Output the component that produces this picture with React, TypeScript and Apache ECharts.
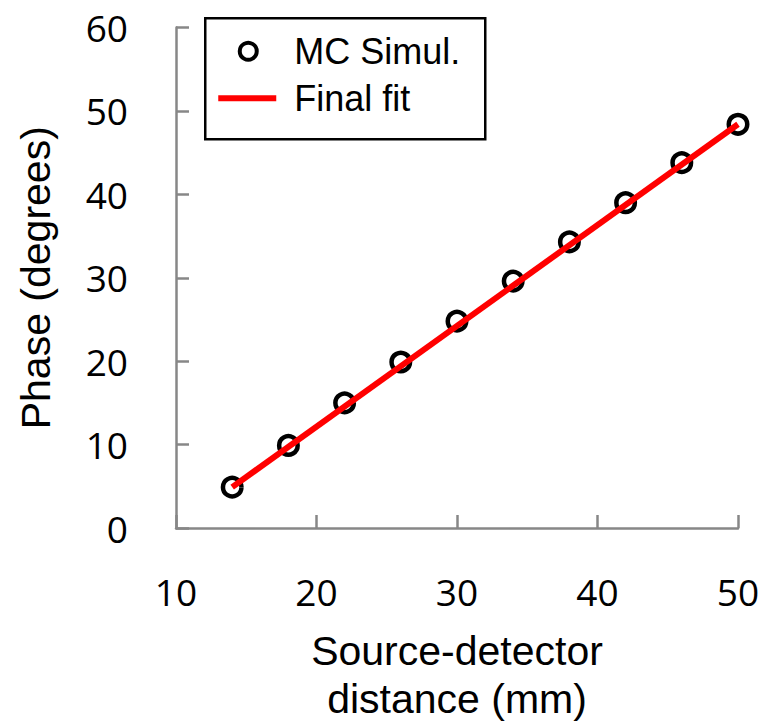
import React, { useEffect, useRef } from "react";
import * as echarts from "echarts";

const distances = [14, 18, 22, 26, 30, 34, 38, 42, 46, 50];
const mcPhase = [4.9, 9.9, 15.0, 19.9, 24.8, 29.6, 34.3, 39.0, 43.8, 48.4];
const fitDistances = [14, 50];
const fitPhase = [4.9, 48.4];
const xTicks = { min: 10, max: 50, interval: 10 };
const yTicks = { min: 0, max: 60, interval: 10 };
const seriesNames = ["MC Simul.", "Final fit"];
const xTitle = "Source-detector\ndistance (mm)";
const yTitle = "Phase (degrees)";

const AXIS_COLOR = "#878787";
const TITLE_FONT = "'Liberation Sans', Arial, sans-serif";
const TICK_FONT = "'Open Sans', sans-serif";

export default function App() {
  const ref = useRef<HTMLDivElement>(null);
  useEffect(() => {
    document.body.style.margin = "0";
    const chart = echarts.init(ref.current!, null, { renderer: "svg" });
    const axisCommon = {
      axisLine: { show: true, lineStyle: { color: AXIS_COLOR, width: 2.5 } },
      axisTick: { show: true, inside: true, length: 13, lineStyle: { color: AXIS_COLOR, width: 2.5 } },
      splitLine: { show: false },
    };
    chart.setOption({
      animation: false,
      backgroundColor: "#ffffff",
      grid: { left: 176, right: 37, top: 27.5, bottom: 199, containLabel: false },
      xAxis: {
        type: "value",
        ...xTicks,
        ...axisCommon,
        axisLabel: { margin: 45, color: "#000", fontSize: 37, fontFamily: TICK_FONT },
        name: xTitle,
        nameLocation: "middle",
        nameGap: 99,
        nameTextStyle: { color: "#000", fontSize: 41, lineHeight: 48, fontFamily: TITLE_FONT },
      },
      yAxis: {
        type: "value",
        ...yTicks,
        ...axisCommon,
        axisLabel: { margin: 48, color: "#000", fontSize: 37, fontFamily: TICK_FONT },
        name: yTitle,
        nameLocation: "middle",
        nameGap: 120,
        nameTextStyle: { color: "#000", fontSize: 41, fontFamily: TITLE_FONT },
      },
      series: [
        {
          name: seriesNames[0],
          type: "scatter",
          data: distances.map((d, i) => [d, mcPhase[i]]),
          symbol: "circle",
          symbolSize: 18.5,
          itemStyle: { color: "rgba(255,255,255,0)", borderColor: "#000", borderWidth: 4.5, opacity: 1 },
          z: 2,
        },
        {
          name: seriesNames[1],
          type: "line",
          data: fitDistances.map((d, i) => [d, fitPhase[i]]),
          showSymbol: false,
          symbol: "none",
          lineStyle: { color: "#ff0000", width: 6, opacity: 1 },
          z: 3,
        },
      ],
      graphic: [
        {
          type: "group",
          left: 204,
          top: 17,
          z: 10,
          children: [
            {
              type: "rect",
              shape: { x: 0, y: 0, width: 280, height: 121 },
              style: { fill: "#fff", stroke: "#000", lineWidth: 2.5 },
            },
            {
              type: "circle",
              shape: { cx: 43, cy: 33, r: 8.5 },
              style: { fill: "none", stroke: "#000", lineWidth: 4 },
            },
            {
              type: "line",
              shape: { x1: 13, y1: 80, x2: 71, y2: 80 },
              style: { stroke: "#ff0000", lineWidth: 6 },
            },
            {
              type: "text",
              x: 89,
              y: 33,
              style: { text: seriesNames[0], font: `36px ${TITLE_FONT}`, fill: "#000", verticalAlign: "middle" },
            },
            {
              type: "text",
              x: 89,
              y: 80,
              style: { text: seriesNames[1], font: `36px ${TITLE_FONT}`, fill: "#000", verticalAlign: "middle" },
            },
          ],
        },
      ],
    });
    return () => chart.dispose();
  }, []);
  return <div ref={ref} style={{ position: "absolute", left: 0, top: 0, width: 775, height: 728 }} />;
}
